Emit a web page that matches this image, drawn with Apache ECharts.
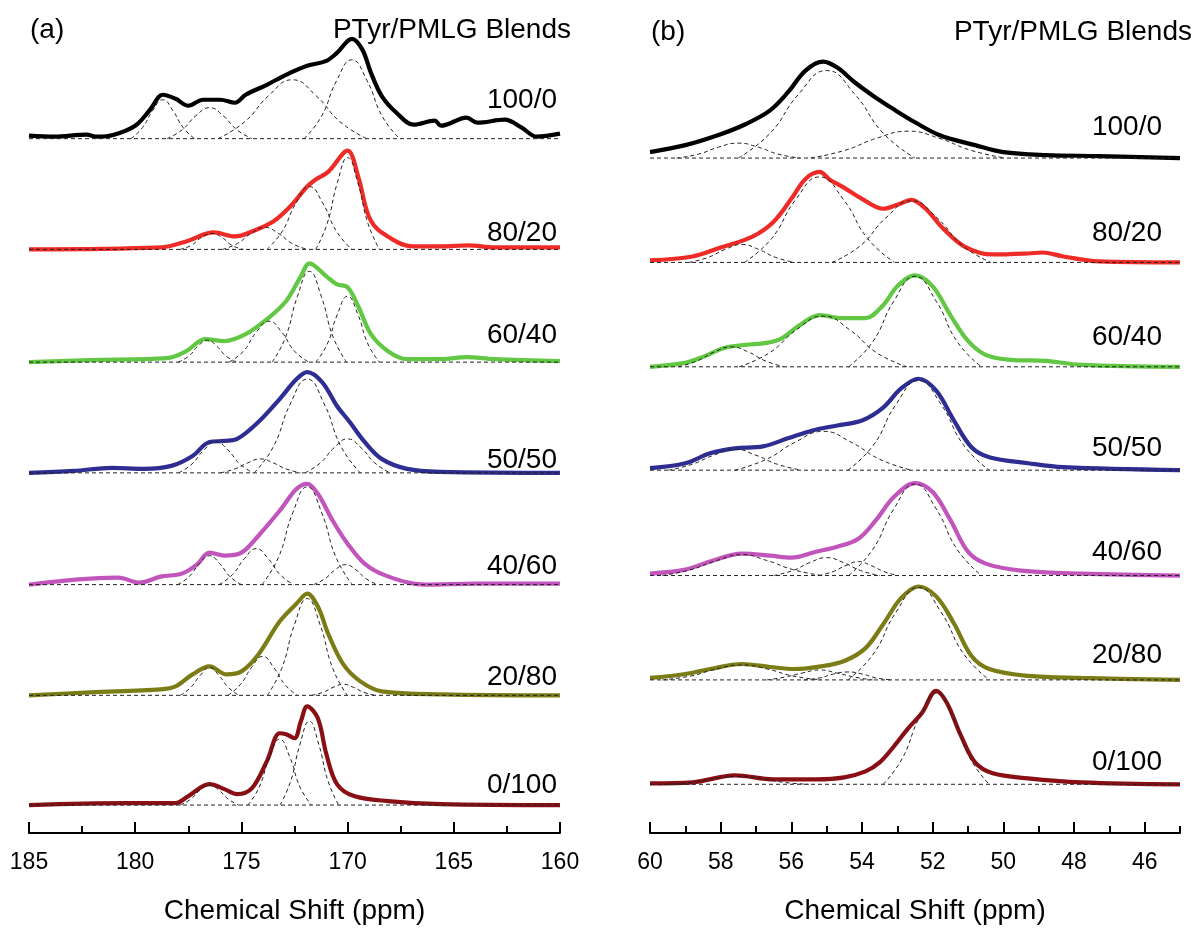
<!DOCTYPE html>
<html>
<head>
<meta charset="utf-8">
<script src="https://cdn.jsdelivr.net/npm/echarts@6/dist/echarts.min.js"></script>
<style>
html, body { margin: 0; padding: 0; background: #fff; }
#main { width: 1195px; height: 930px; }
</style>
</head>
<body>
<div id="main"></div>
<script>
var myChart = echarts.init(document.getElementById('main'));

var blends = ['100/0', '80/20', '60/40', '50/50', '40/60', '20/80', '0/100'];
var colors = ['#000000', '#ee2b26', '#62c843', '#2d2d92', '#c255bc', '#7c7c16', '#8a0f15'];
var ticksB = [46, 48, 50, 52, 54, 56, 58, 60];

// (a) carbonyl region, [ppm, intensity]
var carbonyl100 = [[185, 3], [183.8, 2], [182.3, 4], [181.8, 2], [181.0, 4], [180.0, 13], [179.3, 29], [178.7, 44], [178.1, 40], [177.5, 33], [176.8, 39], [176.0, 39], [175.3, 36], [174.8, 44], [173.8, 54], [172.9, 64], [171.9, 73], [171.0, 78], [170.5, 86], [169.8, 100], [169.3, 89], [168.9, 66], [168.4, 43], [167.7, 26], [166.9, 14], [165.9, 18], [165.6, 13], [164.4, 21], [163.9, 16], [162.6, 19], [161.8, 11], [161.1, 2], [160, 5]];
var carbonyl80 = [[185, 0], [178.8, 2], [177.6, 8], [176.3, 17], [175.3, 13], [174.5, 18], [173.5, 28], [172.7, 43], [171.9, 63], [171.5, 70], [170.9, 78], [170.0, 99], [169.5, 73], [169.0, 33], [168.4, 17], [166.9, 3], [165.6, 3], [164.3, 4], [163.1, 2], [160, 2]];
var carbonyl60 = [[185, 0], [182.1, 2], [178.5, 4], [177.6, 11], [176.7, 23], [175.8, 21], [174.8, 28], [173.8, 43], [172.9, 61], [172.2, 86], [171.8, 99], [171.0, 86], [170.5, 78], [170.0, 75], [169.5, 56], [168.9, 28], [168.1, 11], [167.2, 3], [165.6, 3], [164.4, 5], [163.1, 3], [160, 1]];
var carbonyl50 = [[185, 0], [182.9, 2], [181.1, 5], [179.6, 4], [178.3, 7], [177.3, 17], [176.5, 31], [175.8, 32], [175.2, 34], [174.2, 51], [173.2, 74], [172.4, 94], [171.9, 101], [171.2, 91], [170.5, 67], [169.9, 51], [169.2, 31], [168.4, 14], [167.2, 4], [165.6, 1], [160, 0]];
var carbonyl40 = [[185, 0], [183.3, 4], [182.1, 6], [180.8, 7], [179.8, 2], [178.8, 8], [177.8, 11], [177.1, 20], [176.5, 32], [175.8, 29], [175.0, 32], [174.2, 49], [173.2, 74], [172.4, 96], [171.9, 101], [171.4, 91], [170.7, 64], [170.0, 41], [169.2, 21], [168.2, 9], [166.4, 0], [163.9, 1], [160, 1]];
var carbonyl20 = [[185, 0], [182.1, 3], [178.8, 6], [178.1, 9], [177.3, 21], [176.5, 29], [175.7, 21], [175.0, 24], [174.2, 41], [173.2, 74], [172.4, 92], [171.9, 102], [171.4, 89], [170.9, 61], [170.2, 31], [169.4, 14], [168.4, 4], [165.6, 1], [160, 0]];
var carbonyl0 = [[185, 0], [180.5, 2], [178.1, 2], [177.5, 9], [176.5, 21], [175.8, 16], [175.2, 11], [174.5, 17], [173.8, 44], [173.2, 72], [172.9, 71], [172.5, 67], [172.2, 84], [171.9, 99], [171.4, 87], [171.0, 51], [170.5, 21], [169.7, 9], [168.1, 4], [165.6, 1], [160, 0]];

// (a) fitted components, sampled across each dashed peak
var fitA100 = [
  [[180.2, 0], [179.66, 11], [179.18, 28], [178.7, 39], [178.22, 28], [177.74, 11], [177.2, 0]],
  [[178.5, 0], [177.78, 9], [177.14, 23], [176.5, 31], [175.86, 23], [175.22, 9], [174.5, 0]],
  [[176.1, 0], [174.84, 17], [173.72, 43], [172.6, 59], [171.48, 43], [170.36, 17], [169.1, 0]],
  [[172.05, 0], [171.24, 22], [170.52, 58], [169.8, 79], [169.08, 58], [168.36, 22], [167.55, 0]]
];
var fitA80 = [
  [[177.9, 0], [177.36, 4], [176.88, 12], [176.4, 16], [175.92, 12], [175.44, 4], [174.9, 0]],
  [[175.9, 0], [175.18, 6], [174.54, 16], [173.9, 22], [173.26, 16], [172.62, 6], [171.9, 0]],
  [[173.8, 0], [173.08, 18], [172.44, 46], [171.8, 63], [171.16, 46], [170.52, 18], [169.8, 0]],
  [[171.5, 0], [170.96, 26], [170.48, 67], [170.0, 92], [169.52, 67], [169.04, 26], [168.5, 0]]
];
var fitA60 = [
  [[177.98, 0], [177.48, 6], [177.04, 16], [176.6, 22], [176.16, 16], [175.72, 6], [175.22, 0]],
  [[175.58, 0], [174.9, 11], [174.3, 30], [173.7, 41], [173.1, 30], [172.5, 11], [171.82, 0]],
  [[173.55, 0], [172.92, 25], [172.36, 66], [171.8, 91], [171.24, 66], [170.68, 25], [170.05, 0]],
  [[171.5, 0], [170.96, 18], [170.48, 48], [170.0, 66], [169.52, 48], [169.04, 18], [168.5, 0]]
];
var fitA50 = [
  [[177.95, 0], [177.32, 9], [176.76, 23], [176.2, 31], [175.64, 23], [175.08, 9], [174.45, 0]],
  [[175.98, 0], [175.3, 4], [174.7, 10], [174.1, 14], [173.5, 10], [172.9, 4], [172.22, 0]],
  [[174.4, 0], [173.5, 26], [172.7, 69], [171.9, 94], [171.1, 69], [170.3, 26], [169.4, 0]],
  [[172.0, 0], [171.28, 10], [170.64, 25], [170.0, 34], [169.36, 25], [168.72, 10], [168.0, 0]]
];
var fitA40 = [
  [[178.0, 0], [177.46, 8], [176.98, 21], [176.5, 29], [176.02, 21], [175.54, 8], [175.0, 0]],
  [[176.05, 0], [175.42, 10], [174.86, 26], [174.3, 36], [173.74, 26], [173.18, 10], [172.55, 0]],
  [[174.03, 0], [173.26, 27], [172.58, 72], [171.9, 98], [171.22, 72], [170.54, 27], [169.78, 0]],
  [[171.6, 0], [171.06, 6], [170.58, 15], [170.1, 20], [169.62, 15], [169.14, 6], [168.6, 0]]
];
var fitA20 = [
  [[177.88, 0], [177.38, 8], [176.94, 20], [176.5, 28], [176.06, 20], [175.62, 8], [175.12, 0]],
  [[175.63, 0], [175.04, 11], [174.52, 28], [174.0, 39], [173.48, 28], [172.96, 11], [172.38, 0]],
  [[173.78, 0], [173.1, 27], [172.5, 71], [171.9, 97], [171.3, 71], [170.7, 27], [170.02, 0]],
  [[171.7, 0], [171.16, 3], [170.68, 8], [170.2, 11], [169.72, 8], [169.24, 3], [168.7, 0]]
];
var fitA0 = [
  [[177.88, 0], [177.38, 6], [176.94, 15], [176.5, 20], [176.06, 15], [175.62, 6], [175.12, 0]],
  [[174.7, 0], [174.16, 18], [173.68, 48], [173.2, 66], [172.72, 48], [172.24, 18], [171.7, 0]],
  [[173.18, 0], [172.68, 24], [172.24, 61], [171.8, 84], [171.36, 61], [170.92, 24], [170.42, 0]]
];

// (b) alpha-carbon region
var alpha100 = [[60, 6], [59.0, 13], [58.0, 24], [57.3, 34], [56.6, 48], [56.1, 66], [55.6, 88], [55.1, 97], [54.7, 91], [54.2, 76], [53.7, 63], [53.1, 49], [52.5, 36], [51.8, 23], [50.8, 13], [50.0, 6], [48.8, 3], [47.3, 2], [45, 0]];
var alpha80 = [[60, 2], [58.8, 6], [58.0, 15], [57.1, 26], [56.5, 41], [56.0, 64], [55.6, 84], [55.2, 91], [54.9, 83], [54.5, 75], [54.0, 64], [53.4, 54], [53.0, 58], [52.6, 63], [52.2, 54], [51.7, 34], [51.1, 16], [50.3, 8], [49.3, 9], [48.9, 10], [48.3, 6], [47.3, 1], [45, 0]];
var alpha60 = [[60, 0], [59.0, 4], [58.5, 10], [57.9, 19], [57.3, 22], [56.7, 24], [56.3, 28], [55.8, 41], [55.2, 52], [54.6, 49], [53.9, 49], [53.4, 62], [53.0, 81], [52.5, 92], [52.0, 81], [51.5, 52], [51.0, 26], [50.5, 12], [49.8, 7], [48.8, 6], [47.8, 2], [45, 0]];
var alpha50 = [[60, 2], [59.0, 7], [58.3, 17], [57.6, 22], [56.8, 24], [56.1, 32], [55.4, 40], [54.7, 45], [54.0, 50], [53.4, 63], [52.9, 82], [52.4, 92], [51.9, 80], [51.4, 50], [50.9, 23], [50.4, 13], [49.3, 7], [48.3, 3], [45, 0]];
var alpha40 = [[60, 2], [59.0, 6], [58.3, 14], [57.4, 22], [56.6, 20], [56.0, 18], [55.3, 24], [54.7, 29], [54.1, 37], [53.6, 56], [53.1, 79], [52.5, 93], [52.0, 84], [51.5, 56], [51.0, 24], [50.5, 12], [49.5, 5], [47.8, 2], [45, 0]];
var alpha20 = [[60, 2], [59.0, 6], [58.3, 11], [57.4, 16], [56.6, 13], [55.9, 11], [55.1, 14], [54.5, 19], [53.9, 32], [53.4, 56], [52.9, 82], [52.4, 94], [51.9, 84], [51.4, 57], [50.9, 24], [50.4, 11], [49.3, 4], [47.8, 2], [45, 0]];
var alpha0 = [[60, 1], [58.8, 2], [57.6, 9], [56.5, 5], [55.3, 5], [54.5, 7], [53.9, 13], [53.5, 22], [53.1, 38], [52.7, 56], [52.3, 72], [51.9, 94], [51.6, 82], [51.2, 49], [50.8, 22], [50.3, 11], [49.3, 6], [47.8, 2], [45, 0]];

// (b) fitted components
var fitB100 = [
  [[59.25, 0], [58.62, 4], [58.06, 11], [57.5, 15], [56.94, 11], [56.38, 4], [55.75, 0]],
  [[57.5, 0], [56.6, 25], [55.8, 64], [55.0, 88], [54.2, 64], [53.4, 25], [52.5, 0]],
  [[55.45, 0], [54.46, 8], [53.58, 20], [52.7, 27], [51.82, 20], [50.94, 8], [49.95, 0]]
];
var fitB80 = [
  [[58.9, 0], [58.36, 5], [57.88, 13], [57.4, 18], [56.92, 13], [56.44, 5], [55.9, 0]],
  [[57.33, 0], [56.56, 24], [55.88, 63], [55.2, 86], [54.52, 63], [53.84, 24], [53.08, 0]],
  [[54.85, 0], [54.04, 17], [53.32, 45], [52.6, 62], [51.88, 45], [51.16, 17], [50.35, 0]]
];
var fitB60 = [
  [[59.2, 0], [58.66, 6], [58.18, 15], [57.7, 20], [57.22, 15], [56.74, 6], [56.2, 0]],
  [[57.48, 0], [56.62, 14], [55.86, 37], [55.1, 51], [54.34, 37], [53.58, 14], [52.73, 0]],
  [[54.38, 0], [53.7, 25], [53.1, 66], [52.5, 91], [51.9, 66], [51.3, 25], [50.62, 0]]
];
var fitB50 = [
  [[59.48, 0], [58.8, 6], [58.2, 15], [57.6, 21], [57.0, 15], [56.4, 6], [55.72, 0]],
  [[57.6, 0], [56.7, 11], [55.9, 28], [55.1, 39], [54.3, 28], [53.5, 11], [52.6, 0]],
  [[54.4, 0], [53.68, 25], [53.04, 66], [52.4, 90], [51.76, 66], [51.12, 25], [50.4, 0]]
];
var fitB40 = [
  [[59.65, 0], [58.84, 6], [58.12, 15], [57.4, 21], [56.68, 15], [55.96, 6], [55.15, 0]],
  [[56.5, 0], [55.96, 5], [55.48, 13], [55.0, 18], [54.52, 13], [54.04, 5], [53.5, 0]],
  [[55.23, 0], [54.82, 4], [54.46, 10], [54.1, 14], [53.74, 10], [53.38, 4], [52.98, 0]],
  [[54.38, 0], [53.7, 26], [53.1, 67], [52.5, 92], [51.9, 67], [51.3, 26], [50.62, 0]]
];
var fitB20 = [
  [[59.65, 0], [58.84, 4], [58.12, 11], [57.4, 15], [56.68, 11], [55.96, 4], [55.15, 0]],
  [[56.7, 0], [56.16, 3], [55.68, 7], [55.2, 10], [54.72, 7], [54.24, 3], [53.7, 0]],
  [[55.65, 0], [55.2, 2], [54.8, 6], [54.4, 8], [54.0, 6], [53.6, 2], [53.15, 0]],
  [[54.4, 0], [53.68, 26], [53.04, 68], [52.4, 93], [51.76, 68], [51.12, 26], [50.4, 0]]
];
var fitB0 = [
  [[59.5, 0], [58.78, 2], [58.14, 6], [57.5, 8], [56.86, 6], [56.22, 2], [55.5, 0]],
  [[53.4, 0], [52.86, 26], [52.38, 67], [51.9, 92], [51.42, 67], [50.94, 26], [50.4, 0]]
];

var tracesA = [carbonyl100, carbonyl80, carbonyl60, carbonyl50, carbonyl40, carbonyl20, carbonyl0];
var fitsA = [fitA100, fitA80, fitA60, fitA50, fitA40, fitA20, fitA0];
var tracesB = [alpha100, alpha80, alpha60, alpha50, alpha40, alpha20, alpha0];
var fitsB = [fitB100, fitB80, fitB60, fitB50, fitB40, fitB20, fitB0];

// vertical stacking of each spectrum (px above the axis)
var offsetA = [696, 585, 472, 361, 249, 138, 28];
var offsetB = [679, 574, 469, 365, 259, 154, 49];
var labelYA = [100, 233, 335, 460, 566, 677, 785];
var labelYB = [127, 233, 337, 448, 552, 655, 762];

var font = '"Liberation Sans", Arial, sans-serif';
var series = [];

function lift(points, off) {
  return points.map(function (p) { return [p[0], p[1] + off]; });
}

function addPanel(traces, fits, offsets, xIdx, yIdx, lo, hi) {
  traces.forEach(function (tr, i) {
    series.push({
      type: 'line', xAxisIndex: xIdx, yAxisIndex: yIdx,
      data: lift(tr, offsets[i]), smooth: 0.35, showSymbol: false, z: 2,
      lineStyle: { color: colors[i], width: 4.2 }
    });
    series.push({
      type: 'line', xAxisIndex: xIdx, yAxisIndex: yIdx,
      data: [[hi, offsets[i]], [lo, offsets[i]]], showSymbol: false, z: 3,
      lineStyle: { color: '#222', width: 1, type: [4, 3] }
    });
    fits[i].forEach(function (f) {
      series.push({
        type: 'line', xAxisIndex: xIdx, yAxisIndex: yIdx,
        data: lift(f, offsets[i]), smooth: 0.5, showSymbol: false, z: 3,
        lineStyle: { color: '#222', width: 1, type: [4, 3] }
      });
    });
  });
}

addPanel(tracesA, fitsA, offsetA, 0, 0, 160, 185);
addPanel(tracesB, fitsB, offsetB, 1, 1, 45, 60);

var axisBase = {
  type: 'value',
  inverse: true,
  position: 'bottom',
  splitLine: { show: false },
  axisLine: { onZero: false, lineStyle: { color: '#000', width: 2 } },
  axisTick: { inside: true, length: 11, lineStyle: { color: '#000', width: 2 } },
  axisLabel: { color: '#000', fontSize: 23, fontFamily: font, margin: 18 },
  name: 'Chemical Shift (ppm)',
  nameLocation: 'middle',
  nameGap: 64,
  nameTextStyle: { color: '#000', fontSize: 28, fontFamily: font }
};

var graphics = [];
blends.forEach(function (b, i) {
  graphics.push({ type: 'text', x: 557, y: labelYA[i], style: { text: b, fill: '#000', fontSize: 28, fontFamily: font, align: 'right', verticalAlign: 'middle' } });
  graphics.push({ type: 'text', x: 1162, y: labelYB[i], style: { text: b, fill: '#000', fontSize: 28, fontFamily: font, align: 'right', verticalAlign: 'middle' } });
});
graphics.push({ type: 'text', x: 30, y: 30, style: { text: '(a)', fill: '#000', fontSize: 28, fontFamily: font, align: 'left', verticalAlign: 'middle' } });
graphics.push({ type: 'text', x: 651, y: 32, style: { text: '(b)', fill: '#000', fontSize: 28, fontFamily: font, align: 'left', verticalAlign: 'middle' } });
graphics.push({ type: 'text', x: 571, y: 30, style: { text: 'PTyr/PMLG Blends', fill: '#000', fontSize: 28, fontFamily: font, align: 'right', verticalAlign: 'middle' } });
graphics.push({ type: 'text', x: 1192, y: 32, style: { text: 'PTyr/PMLG Blends', fill: '#000', fontSize: 28, fontFamily: font, align: 'right', verticalAlign: 'middle' } });

option = {
  animation: false,
  backgroundColor: '#fff',
  grid: [
    { left: 29, top: 0, width: 531, height: 835 },
    { left: 650, top: 0, width: 530, height: 838 }
  ],
  xAxis: [
    Object.assign({}, axisBase, {
      gridIndex: 0, min: 160, max: 185, interval: 5,
      minorTick: { show: true, splitNumber: 2, length: 7, lineStyle: { color: '#000', width: 2 } },
      minorSplitLine: { show: false }
    }),
    Object.assign({}, axisBase, {
      gridIndex: 1, min: 45, max: 60,
      axisTick: { inside: true, length: 11, customValues: ticksB, lineStyle: { color: '#000', width: 2 } },
      axisLabel: { color: '#000', fontSize: 23, fontFamily: font, margin: 18, customValues: ticksB }
    }),
    {
      type: 'value', gridIndex: 1, min: 45, max: 60, interval: 1, inverse: true,
      position: 'bottom', offset: 0,
      axisLine: { show: false, onZero: false }, splitLine: { show: false },
      axisLabel: { show: false },
      axisTick: { inside: true, length: 7, lineStyle: { color: '#000', width: 2 } }
    }
  ],
  yAxis: [
    { type: 'value', gridIndex: 0, min: 0, max: 835, show: false },
    { type: 'value', gridIndex: 1, min: 0, max: 838, show: false }
  ],
  graphic: graphics,
  series: series
};

myChart.setOption(option);
</script>
</body>
</html>
